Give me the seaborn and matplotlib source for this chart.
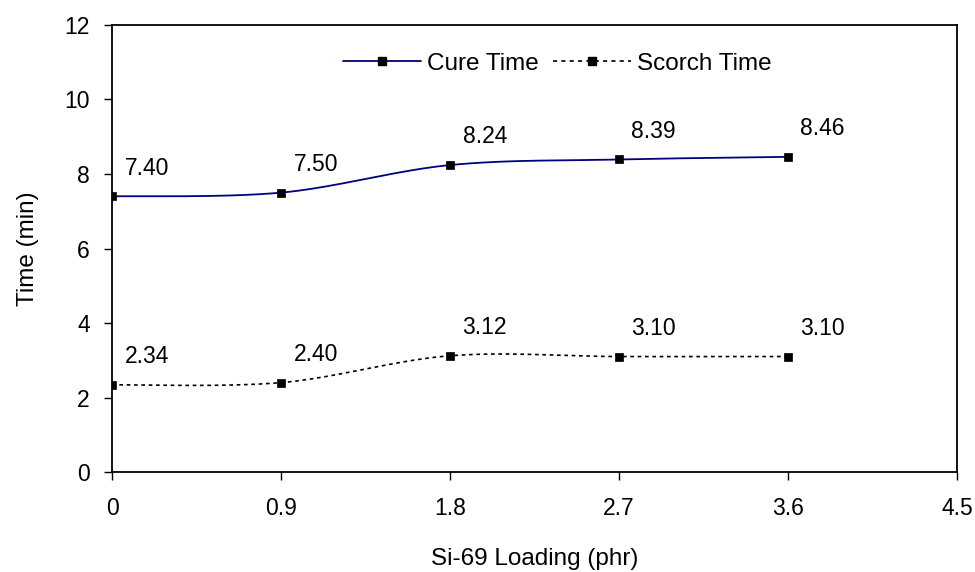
import numpy as np
import pandas as pd
import matplotlib
matplotlib.use("Agg")
import matplotlib.pyplot as plt
from matplotlib.lines import Line2D
import seaborn as sns

loading = [0, 0.9, 1.8, 2.7, 3.6]
cure_time = [7.40, 7.50, 8.24, 8.39, 8.46]
scorch_time = [2.34, 2.40, 3.12, 3.10, 3.10]
cure_labels = ["7.40", "7.50", "8.24", "8.39", "8.46"]
scorch_labels = ["2.34", "2.40", "3.12", "3.10", "3.10"]
x_ticks = [0, 0.9, 1.8, 2.7, 3.6, 4.5]
x_tick_labels = ["0", "0.9", "1.8", "2.7", "3.6", "4.5"]
y_ticks = [0, 2, 4, 6, 8, 10, 12]

sns.set_theme(style="white")
plt.rcParams['font.family'] = ['Liberation Sans', 'DejaVu Sans']
plt.rcParams['text.color'] = 'black'
plt.rcParams['axes.labelcolor'] = 'black'
plt.rcParams['xtick.color'] = 'black'
plt.rcParams['ytick.color'] = 'black'


def smooth_path(xs, ys, n=40):
    """Excel-style smoothed line (Bezier with Catmull-Rom control points)."""
    P = np.column_stack([xs, ys]).astype(float)
    m = len(P)
    out = []
    for i in range(m - 1):
        p0 = P[i - 1] if i > 0 else P[i]
        p1 = P[i]
        p2 = P[i + 1]
        p3 = P[i + 2] if i + 2 < m else P[i + 1]
        b1 = p1 + (p2 - p0) / 6.0
        b2 = p2 - (p3 - p1) / 6.0
        t = np.linspace(0, 1, n)[:, None]
        seg = ((1 - t) ** 3) * p1 + 3 * ((1 - t) ** 2) * t * b1 + 3 * (1 - t) * t ** 2 * b2 + t ** 3 * p2
        if i > 0:
            seg = seg[1:]
        out.append(seg)
    s = np.vstack(out)
    return s[:, 0], s[:, 1]


fig = plt.figure(figsize=(9.75, 5.72), dpi=100)
ax = fig.add_axes([0.1149, 0.1748, 0.9815 - 0.1149, 0.9563 - 0.1748])

cure_color = "#000080"
scorch_color = "#000000"

cx, cy = smooth_path(loading, cure_time)
sx, sy = smooth_path(loading, scorch_time)
sns.lineplot(x=cx, y=cy, sort=False, estimator=None, color=cure_color, lw=1.3, ax=ax)
sns.lineplot(x=sx, y=sy, sort=False, estimator=None, color=scorch_color, lw=1.2,
             linestyle=(0, (2.2, 2.2)), ax=ax)
sns.scatterplot(x=loading, y=cure_time, marker="s", s=38, color="black", edgecolor="black",
                linewidth=0.5, ax=ax, zorder=5)
sns.scatterplot(x=loading, y=scorch_time, marker="s", s=38, color="black", edgecolor="black",
                linewidth=0.5, ax=ax, zorder=5)

for xv, yv, lab in zip(loading, cure_time, cure_labels):
    ax.annotate(lab, (xv, yv), xytext=(9, 12), textcoords="offset points",
                fontsize=16.5, ha="left", va="bottom", color="black")
for xv, yv, lab in zip(loading, scorch_time, scorch_labels):
    ax.annotate(lab, (xv, yv), xytext=(9, 12), textcoords="offset points",
                fontsize=16.5, ha="left", va="bottom", color="black")

ax.set_xlim(0, 4.5)
ax.set_ylim(0, 12)
ax.set_xticks(x_ticks)
ax.set_xticklabels(x_tick_labels)
ax.set_yticks(y_ticks)
ax.tick_params(axis="both", direction="out", length=6, width=1, labelsize=16.5,
               bottom=True, left=True, color="black", labelcolor="black")
ax.tick_params(axis="y", pad=10)
ax.tick_params(axis="x", pad=12)
for sp in ax.spines.values():
    sp.set_visible(True)
    sp.set_color("black")
    sp.set_linewidth(1.3)

ax.set_xlabel("Si-69 Loading (phr)", fontsize=17.5, labelpad=20, color="black")
ax.set_ylabel("Time (min)", fontsize=17.5, labelpad=18, color="black")

handles = [
    Line2D([0], [0], color=cure_color, lw=1.3, marker="s", markersize=5.5,
           markerfacecolor="black", markeredgecolor="black"),
    Line2D([0], [0], color=scorch_color, lw=1.2, linestyle=(0, (2.5, 2.5)), marker="s",
           markersize=5.5, markerfacecolor="black", markeredgecolor="black"),
]
leg = ax.legend(handles, ["Cure Time", "Scorch Time"], loc="upper center",
                bbox_to_anchor=(0.527, 0.987), ncol=2, frameon=False, fontsize=17.5,
                handlelength=3.2, handletextpad=0.25, columnspacing=0.6, numpoints=1)
for t in leg.get_texts():
    t.set_color("black")

fig.savefig("out.png", dpi=100)
